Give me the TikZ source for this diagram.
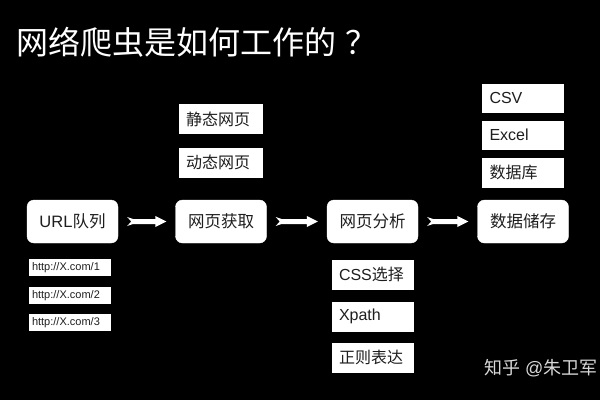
\documentclass[tikz,border=0pt]{standalone}
\usepackage{fontspec}
\setmainfont{Liberation Sans}
\newfontfamily\cjk{Noto Sans CJK SC}
\usetikzlibrary{calc}
\definecolor{boxtext}{HTML}{1E1E1E}
\definecolor{wm}{HTML}{D8D8D8}
\tikzset{
  mainbox/.style={draw=white, fill=white, rounded corners=7pt, minimum width=91pt, minimum height=43pt,
    text=boxtext, font=\fontsize{16.5}{18}\selectfont, inner sep=0pt},
  subbox/.style={draw=white, fill=white, minimum height=29pt, text width=67pt, inner xsep=7pt, inner ysep=0pt,
    align=left, text=boxtext, font=\fontsize{16}{17}\selectfont},
  urlbox/.style={draw=white, fill=white, minimum height=16pt, text width=75pt, inner xsep=3pt, inner ysep=0pt,
    align=left, text=boxtext, font=\fontsize{11}{12}\selectfont},
}
\newcommand{\fatarrow}[2]{%
  \fill[white] let \p1=($(#1.east)+(9pt,0)$), \p2=($(#2.west)+(-9pt,0)$) in
    (\x1,\y1+4.5pt) -- (\x1+6pt,\y1+2.5pt) -- (\x2-11pt,\y1+2.5pt) -- (\x2-11pt,\y1+5.5pt) -- (\x2,\y1)
    -- (\x2-11pt,\y1-5.5pt) -- (\x2-11pt,\y1-2.5pt) -- (\x1+6pt,\y1-2.5pt) -- (\x1,\y1-4.5pt) -- (\x1+4pt,\y1) -- cycle;}
\begin{document}
\begin{tikzpicture}[x=1pt,y=-1pt]
\fill[black] (0,0) rectangle (600,400);
\useasboundingbox (0,0) rectangle (600,400);

\node[anchor=west, inner sep=0pt, text=white, font=\cjk\fontsize{32}{34}\selectfont] (title) at (16,42) {网络爬虫是如何工作的\kern9pt？};

\node[mainbox] (url) at (72.5,221.5) {URL{\cjk 队列}};
\node[mainbox] (fetch) at (221,221.5) {\cjk 网页获取};
\node[mainbox] (parse) at (372.5,221.5) {\cjk 网页分析};
\node[mainbox] (store) at (523,221.5) {\cjk 数据储存};

\fatarrow{url}{fetch}
\fatarrow{fetch}{parse}
\fatarrow{parse}{store}

\node[urlbox] (u1) at (69.5,267.5) {http://X.com/1};
\node[urlbox] (u2) at (69.5,295.5) {http://X.com/2};
\node[urlbox] (u3) at (69.5,322.5) {http://X.com/3};

\node[subbox, text width=69pt] (static) at (220.5,119) {\cjk 静态网页};
\node[subbox, text width=69pt] (dynamic) at (220.5,162.5) {\cjk 动态网页};

\node[subbox] (css) at (372.5,274.5) {CSS{\cjk 选择}};
\node[subbox] (xpath) at (372.5,316.5) {Xpath};
\node[subbox] (regex) at (372.5,357.5) {\cjk 正则表达};

\node[subbox, minimum height=28pt] (csv) at (523,98) {CSV};
\node[subbox, minimum height=28pt] (excel) at (523,135) {Excel};
\node[subbox] (db) at (523,172.5) {\cjk 数据库};

\node[anchor=west, inner sep=0pt, text=wm, font=\fontsize{18}{20}\selectfont] (wmk) at (484,368) {{\cjk 知乎} @{\cjk 朱卫军}};
\end{tikzpicture}
\end{document}
